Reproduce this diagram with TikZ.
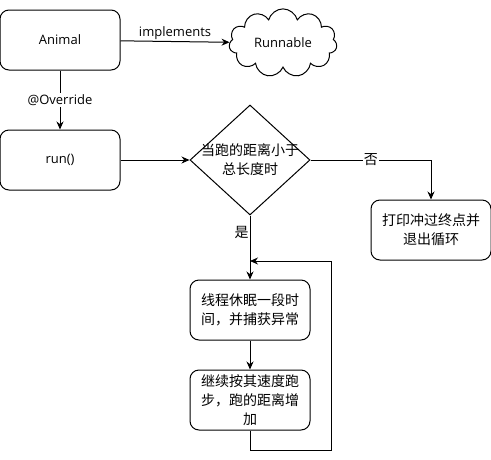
\documentclass[tikz,border=0pt]{standalone}
\usepackage{fontspec}
\setmainfont{Open Sans}
\newfontfamily\cjk{Noto Sans CJK SC}
\usetikzlibrary{shapes.geometric,shapes.symbols,arrows.meta}
\begin{document}
\begin{tikzpicture}[x=1pt,y=-1pt,line width=1pt,
    box/.style={draw,rounded corners=9pt,minimum width=120pt,minimum height=60pt,
      align=center,font=\fontsize{13}{16}\selectfont},
    zh/.style={font=\cjk\fontsize{14}{19}\selectfont,align=center},
    lbl/.style={font=\fontsize{13}{16}\selectfont,inner sep=1pt},
    arr/.style={-{Stealth[length=8pt,width=7pt]}}]
  \useasboundingbox (0,0) rectangle (491,459);
  \node[box] (animal) at (60,40) {Animal};
  \node[draw,cloud,cloud puffs=11,aspect=1.8,minimum width=108pt,minimum height=62pt,
    font=\fontsize{13}{16}\selectfont] (runnable) at (283,43) {Runnable};
  \node[box] (runm) at (60,160) {run()};
  \node[draw,diamond,minimum width=120pt,minimum height=110pt] (dec) at (250,160) {};
  \node[zh] (dectext) at (dec) {当跑的距离小于\\总长度时};
  \node[box,zh] (quit) at (431,230) {打印冲过终点并\\退出循环};
  \node[box,zh] (sleep) at (250,310) {线程休眠一段时\\间，并捕获异常};
  \node[box,zh] (move) at (250,400) {继续按其速度跑\\步，跑的距离增\\加};
  \coordinate (loop) at (331,261);
  \coordinate (back) at (250,261);
  \begin{scope}[arr]
    \draw (animal) -- node[lbl,above] {implements} (runnable);
    \draw (animal) -- node[lbl,fill=white] {@Override} (runm);
    \draw (runm) -- (dec);
    \draw (dec.east) -| node[zh,fill=white,inner sep=1pt,pos=0.25] {否} (quit);
    \draw (dec) -- node[zh,left,inner sep=1pt,pos=0.27] {是} (sleep);
    \draw (sleep) -- (move);
    \draw (move.south) -- ++(0,20) -| (loop) -- (back);
  \end{scope}
\end{tikzpicture}
\end{document}
